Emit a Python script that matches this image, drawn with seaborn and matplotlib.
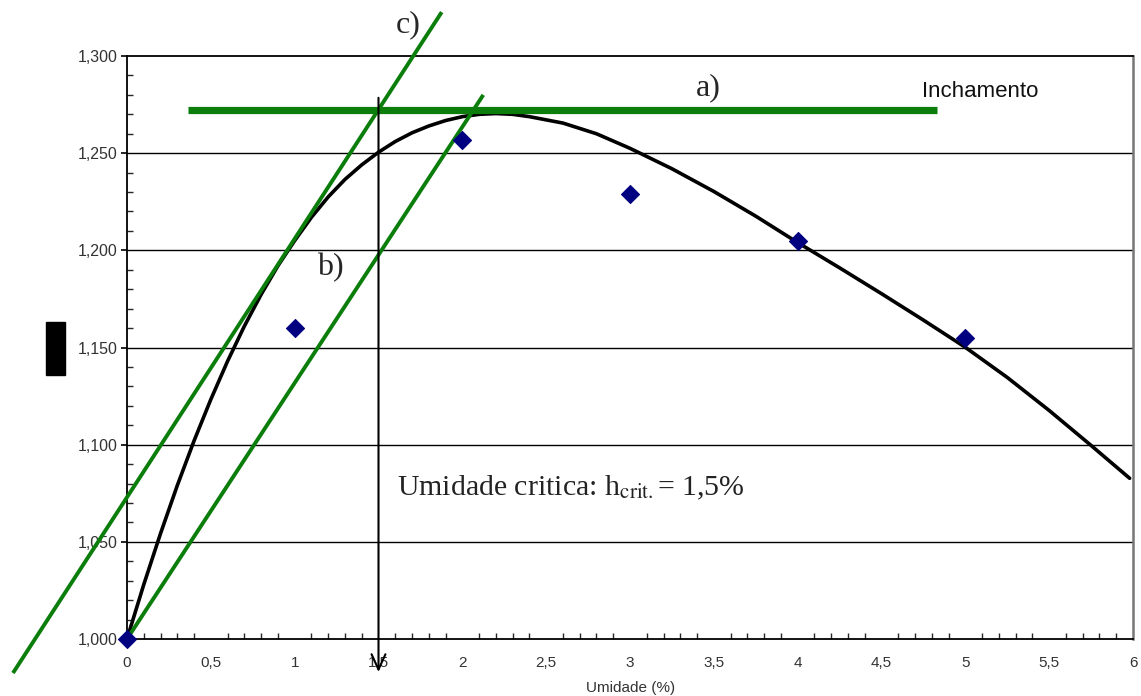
import numpy as np
import pandas as pd
import matplotlib
matplotlib.use("Agg")
import matplotlib.pyplot as plt
import matplotlib.ticker as mticker
from matplotlib.patches import Rectangle
import seaborn as sns

# measured points (umidade %, inchamento)
umidade = [0, 1, 2, 3, 4, 5]
inchamento = [1.000, 1.160, 1.257, 1.229, 1.205, 1.155]

# trend curve
curve_x = [0, 0.1, 0.2, 0.3, 0.4, 0.5, 0.6, 0.7, 0.8, 0.9, 1.0, 1.1, 1.2, 1.3, 1.4,
           1.5, 1.6, 1.7, 1.8, 1.9, 2.0, 2.1, 2.2, 2.3, 2.4, 2.6, 2.8, 3.0, 3.25, 3.5,
           3.75, 4.0, 4.25, 4.5, 4.75, 5.0, 5.25, 5.5, 5.75, 5.98]
curve_y = [1.000, 1.028, 1.0543, 1.079, 1.102, 1.1233, 1.143, 1.161, 1.1773, 1.192,
           1.205, 1.217, 1.2275, 1.2365, 1.244, 1.2505, 1.256, 1.2605, 1.264,
           1.2668, 1.2688, 1.270, 1.2704, 1.270, 1.2688, 1.2655, 1.2600, 1.2525,
           1.2420, 1.2303, 1.2176, 1.2040, 1.1910, 1.1777, 1.1641, 1.1501, 1.1346,
           1.1176, 1.0996, 1.0827]

# construction lines a), b), c)
line_a_x = [0.366, 4.83]
line_a_y = [1.272, 1.272]
line_b_x = [0.0, 2.125]
line_b_y = [1.000, 1.280]
line_c_x = [-0.68, 1.877]
line_c_y = [0.9825, 1.3226]
h_crit = 1.5

df_pts = pd.DataFrame({"umidade": umidade, "inchamento": inchamento})
df_curve = pd.DataFrame({"x": curve_x, "y": curve_y})

sns.set_style("white")
plt.rcParams["font.family"] = ["Liberation Sans", "DejaVu Sans"]
plt.rcParams["mathtext.fontset"] = "stix"

fig, ax = plt.subplots(figsize=(11.41, 6.96), dpi=100)
fig.subplots_adjust(left=0.1113, right=0.993, top=0.9195, bottom=0.0819)

green = "#0b7d0b"

ax.set_xlim(0, 6)
ax.set_ylim(1.0, 1.3)

# horizontal grid
for v in [1.05, 1.10, 1.15, 1.20, 1.25]:
    ax.axhline(v, color="black", lw=1.0, zorder=1)

sns.lineplot(data=df_curve, x="x", y="y", ax=ax, color="black", lw=2.6,
             sort=False, estimator=None, zorder=3, solid_joinstyle="round")

ax.plot(line_a_x, line_a_y, color=green, lw=5.2, solid_capstyle="butt", zorder=4)
ax.plot(line_b_x, line_b_y, color=green, lw=2.8, solid_capstyle="butt", zorder=4, clip_on=False)
ax.plot(line_c_x, line_c_y, color=green, lw=2.8, solid_capstyle="butt", zorder=4, clip_on=False)

sns.scatterplot(data=df_pts, x="umidade", y="inchamento", ax=ax, marker="D",
                s=85, color="#000080", edgecolor="#000080", zorder=5, clip_on=False)

# critical humidity marker
ax.annotate("", xy=(h_crit, 0.983), xytext=(h_crit, 1.2785),
            arrowprops=dict(arrowstyle="->,head_length=1.1,head_width=0.5",
                            color="black", lw=1.5, shrinkA=0, shrinkB=0),
            annotation_clip=False, zorder=6)

serif = ["Liberation Serif", "DejaVu Serif"]
ax.text(1.676, 1.316, "c)", fontsize=23, family=serif, ha="center", va="center")
ax.text(3.465, 1.2835, "a)", fontsize=23, family=serif, ha="center", va="center")
ax.text(1.211, 1.1909, "b)", fontsize=23, family=serif, ha="center", va="center")
ax.text(4.741, 1.2815, "Inchamento", fontsize=16, ha="left", va="center", color="#111111")
ax.text(1.61, 1.0777, "Umidade critica: h$_{\\mathrm{crit.}}$= 1,5%", fontsize=21.5,
        family=serif, ha="left", va="center", color="#222222")

# ticks
ax.xaxis.set_major_locator(mticker.MultipleLocator(0.5))
ax.xaxis.set_minor_locator(mticker.MultipleLocator(0.1))
ax.yaxis.set_major_locator(mticker.MultipleLocator(0.05))
ax.yaxis.set_minor_locator(mticker.MultipleLocator(0.01))
ax.xaxis.set_major_formatter(mticker.FuncFormatter(lambda v, p: f"{v:g}".replace(".", ",")))
ax.yaxis.set_major_formatter(mticker.FuncFormatter(lambda v, p: f"{v:.3f}".replace(".", ",")))
ax.tick_params(axis="x", which="major", direction="inout", length=7, width=1.2,
               labelsize=11, pad=9, colors="black", labelcolor="#333333")
ax.tick_params(axis="x", which="minor", direction="in", length=4, width=1.0, bottom=True)
ax.tick_params(axis="y", which="major", direction="out", length=4, width=1.2,
               labelsize=11.5, pad=3, colors="black", labelcolor="#333333", left=True)
ax.tick_params(axis="y", which="minor", direction="in", length=4, width=1.0, left=True)

for side in ["left", "bottom", "top"]:
    ax.spines[side].set_color("black")
    ax.spines[side].set_linewidth(1.3)
ax.spines["right"].set_color("#777777")
ax.spines["right"].set_linewidth(1.8)

ax.set_ylabel("")
ax.set_xlabel("Umidade (%)", fontsize=11, color="#333333")
ax.xaxis.set_label_coords((631 - 127) / 1006, (639 - 688) / 583)
ax.xaxis.label.set_va("center")

# redacted y label box
fig.patches.append(Rectangle((46 / 1141, 1 - 375 / 696), 19 / 1141, 53 / 696,
                             transform=fig.transFigure, color="black", zorder=10))

fig.savefig("out.png", dpi=100)
